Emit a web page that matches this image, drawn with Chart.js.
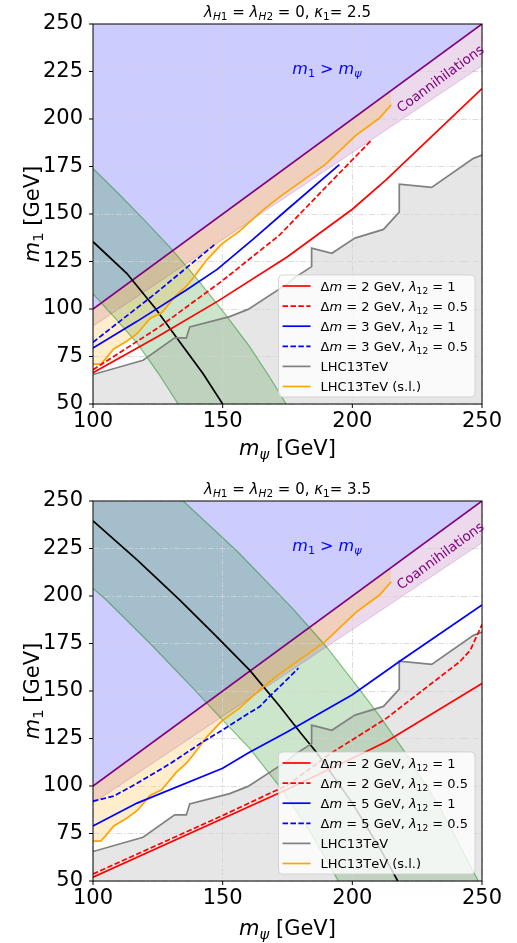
<!DOCTYPE html>
<html>
<head>
<meta charset="utf-8">
<script src="https://cdn.jsdelivr.net/npm/chart.js@4.4.0/dist/chart.umd.min.js"></script>
<style>
html, body { margin: 0; padding: 0; background: #fff; }
#wrap { position: relative; width: 517px; height: 943px; }
canvas { position: absolute; left: 0; }
</style>
</head>
<body>
<div id="wrap">
  <canvas id="topChart" width="517" height="470" style="top:0px"></canvas>
  <canvas id="bottomChart" width="517" height="473" style="top:470px"></canvas>
</div>
<script>
// axis limits (GeV)
const X_MIN = 100, X_MAX = 250, Y_MIN = 50, Y_MAX = 250;

// shared curves, [m_psi, m_1]
const diagonal = [[100, 100], [250, 250]];
const coannLow = [[100, 91], [250, 228]];
const lhc = [[100, 65.5], [119.3, 73], [131.5, 84.8], [136, 84.8], [137.3, 90.6], [152.7, 96], [159.8, 99.8],
  [175.2, 113.5], [177.2, 116], [184.3, 122.3], [184.3, 132], [192.1, 129.3], [201, 137.3], [212, 141.9],
  [218.1, 151], [218.1, 165.7], [230.6, 164], [246.7, 179.3], [250, 181]];
const lhcSL = [[100, 71], [103, 71], [105, 74], [108, 79], [113, 83], [117, 87], [122, 95], [126.5, 98],
  [132, 107], [136, 112], [139, 117], [144, 126], [149.5, 134], [156.5, 141], [165.5, 152], [172, 159],
  [189.5, 176], [201.5, 191.5], [210.5, 200.5], [215, 207.5]];

// kappa1 = 2.5
const greenUpA = [[100, 174], [110, 160.5], [120, 146.5], [130, 132], [140, 116], [150, 99], [160, 81], [168, 64.5], [174.5, 50]];
const greenLowA = [[100, 108], [108, 96], [117, 82], [125.5, 65.5], [132.8, 50]];
const blackA = [[100, 135.4], [113, 118.8], [124, 100.4], [133.4, 82.8], [142.4, 66], [150, 50]];
const redSolidA = [[100, 66.5], [125, 85.5], [148, 104], [175, 127.5], [200, 152.5], [213, 168], [250, 216]];
const redDashA = [[100, 68], [125, 90], [150, 115], [172, 139], [190, 164.5], [207.5, 189]];
const blueSolidA = [[100, 79.5], [117, 93.5], [136, 110], [148, 121], [162, 137], [175, 152.5], [195, 176]];
const blueDashA = [[100, 82.5], [123, 107], [147, 134]];
const labelsA = ['$Δm = 2$ GeV, $λ_{12}$ = 1', '$Δm = 2$ GeV, $λ_{12}$ = 0.5',
  '$Δm = 3$ GeV, $λ_{12}$ = 1', '$Δm = 3$ GeV, $λ_{12}$ = 0.5', 'LHC13TeV', 'LHC13TeV (s.l.)'];

// kappa1 = 3.5
const greenUpB = [[134.8, 250], [156, 223], [172, 200.5], [177.3, 193], [190, 173.3], [203, 150.5], [210.7, 136.5],
  [219.7, 119], [234, 88], [248.6, 50]];
const greenLowB = [[100, 204], [105, 198], [122, 175], [138.6, 151.4], [150, 134.7], [160.4, 119.8], [172, 99.6],
  [183.5, 76.5], [194.6, 50]];
const blackB = [[100, 239.5], [117, 219], [133.4, 198], [147, 179.5], [160.4, 161], [172, 142], [180, 128],
  [186.3, 117.5], [200, 91], [210.7, 67], [217.5, 50]];
const redSolidB = [[100, 52], [175, 98.3], [204, 117.2], [213, 123.3], [250, 154]];
const redDashB = [[100, 53.7], [150, 84.5], [175, 100.5], [191.5, 117], [213, 135.5], [241.5, 165.5], [245.5, 171.5], [250, 185]];
const blueSolidB = [[100, 79], [117, 91], [150, 109.3], [160, 117.5], [175, 128.5], [200, 148], [219, 166.3], [250, 195.3]];
const blueDashB = [[100, 92], [108, 94.7], [117, 101.4], [130, 112], [142.4, 123.3], [150, 129.5], [159, 137.4],
  [164.3, 141.8], [168, 147], [172, 152.3], [179.2, 162]];
const labelsB = ['$Δm = 2$ GeV, $λ_{12}$ = 1', '$Δm = 2$ GeV, $λ_{12}$ = 0.5',
  '$Δm = 5$ GeV, $λ_{12}$ = 1', '$Δm = 5$ GeV, $λ_{12}$ = 0.5', 'LHC13TeV', 'LHC13TeV (s.l.)'];

const titleA = '$λ_{H1} = λ_{H2} = 0, κ_1$= 2.5';
const titleB = '$λ_{H1} = λ_{H2} = 0, κ_1$= 3.5';
const xTitle = '$m_ψ$ [GeV]';
const yTitle = '$m_1$ [GeV]';
const regionText = '$m_1 > m_ψ$';
const coannText = 'Coannihilations';

const FONT = '"DejaVu Sans", sans-serif';
const LW = 1.7;

// tiny mathtext: $...$ toggles math, letters in math are italic, _x / _{xy} are subscripts
function parseRich(str) {
  const parts = [];
  let math = false;
  for (let i = 0; i < str.length; i++) {
    const c = str[i];
    if (c === '$') { math = !math; continue; }
    if (math && c === '_') {
      let s;
      if (str[i + 1] === '{') { const j = str.indexOf('}', i); s = str.slice(i + 2, j); i = j; }
      else { s = str[i + 1]; i++; }
      for (const ch of s) parts.push({ t: ch, it: /[A-Za-zα-ω]/.test(ch), sub: true });
      continue;
    }
    parts.push({ t: c, it: math && /[A-Za-zα-ω]/.test(c), sub: false });
  }
  return parts;
}
function richFont(p, size) {
  return (p.it ? 'italic ' : '') + (p.sub ? size * 0.7 : size) + 'px ' + FONT;
}
function richWidth(ctx, str, size) {
  let w = 0;
  for (const p of parseRich(str)) { ctx.font = richFont(p, size); w += ctx.measureText(p.t).width; }
  return w;
}
function drawRich(ctx, str, x, y, size, color, align) {
  const w = richWidth(ctx, str, size);
  let cx = align === 'center' ? x - w / 2 : (align === 'right' ? x - w : x);
  const base = y + size * 0.36;
  ctx.save();
  ctx.fillStyle = color;
  ctx.textAlign = 'left';
  ctx.textBaseline = 'alphabetic';
  for (const p of parseRich(str)) {
    ctx.font = richFont(p, size);
    ctx.fillText(p.t, cx, p.sub ? base + size * 0.22 : base);
    cx += ctx.measureText(p.t).width;
  }
  ctx.restore();
}

function pts(a) { return a.map(p => ({ x: p[0], y: p[1] })); }

function buildPanel(id, p) {
  const none = 'rgba(0,0,0,0)';
  const gTop = p.greenUp[0][0] > X_MIN ? [[X_MIN, Y_MAX]].concat(p.greenUp) : p.greenUp;
  const gBase = p.greenLow.concat([[p.greenUp[p.greenUp.length - 1][0], Y_MIN]]);

  // index 0 must not be a fill target (filler skips target 0 when drawing beforeDraw)
  // higher order = drawn earlier, so the blue region goes under the green band
  const datasets = [
    { label: p.labels[4], data: pts(lhc), borderColor: 'gray', borderWidth: LW, fill: 'start', backgroundColor: 'rgba(128,128,128,0.2)', order: 2 },
    { data: pts(diagonal), borderColor: 'purple', borderWidth: LW, fill: 'end', backgroundColor: 'rgba(0,0,255,0.2)', order: 6 },
    { data: pts(coannLow), borderColor: 'rgba(128,0,128,0.2)', borderWidth: 1, fill: { target: 1 }, backgroundColor: 'rgba(128,0,128,0.15)', order: 5 },
    { data: pts(gTop), borderColor: none, borderWidth: 0.01, fill: { target: 4 }, backgroundColor: 'rgba(0,128,0,0.2)', order: 5 },
    { data: pts(gBase), borderColor: none, borderWidth: 0.01, fill: false, order: 5 },
    { label: p.labels[5], data: pts(lhcSL), borderColor: 'orange', borderWidth: LW, fill: { target: 1 }, backgroundColor: 'rgba(255,165,0,0.2)', order: 2 },
    { data: pts(p.greenUp), borderColor: 'rgba(0,128,0,0.45)', borderWidth: 1.2, fill: false, order: 4 },
    { data: pts(p.greenLow), borderColor: 'rgba(0,128,0,0.45)', borderWidth: 1.2, fill: false, order: 4 },
    { data: pts(p.black), borderColor: 'black', borderWidth: LW, fill: false, order: 3 },
    { label: p.labels[0], data: pts(p.redSolid), borderColor: 'red', borderWidth: LW, fill: false, order: 0 },
    { label: p.labels[1], data: pts(p.redDash), borderColor: 'red', borderWidth: LW, borderDash: [5.5, 2.4], fill: false, order: 0 },
    { label: p.labels[2], data: pts(p.blueSolid), borderColor: 'blue', borderWidth: LW, fill: false, order: 0 },
    { label: p.labels[3], data: pts(p.blueDash), borderColor: 'blue', borderWidth: LW, borderDash: [5.5, 2.4], fill: false, order: 0 }
  ];
  const legendOrder = [9, 10, 11, 12, 0, 5];

  const decor = {
    id: 'decor',
    afterDatasetsDraw(chart) {
      const { ctx, chartArea: a, scales: { x, y } } = chart;
      ctx.save();
      ctx.strokeStyle = '#000';
      ctx.lineWidth = 1;
      ctx.strokeRect(a.left, a.top, a.right - a.left, a.bottom - a.top);
      ctx.beginPath();
      x.ticks.forEach(t => { const px = x.getPixelForValue(t.value); ctx.moveTo(px, a.bottom); ctx.lineTo(px, a.bottom + 4); });
      y.ticks.forEach(t => { const py = y.getPixelForValue(t.value); ctx.moveTo(a.left, py); ctx.lineTo(a.left - 4, py); });
      ctx.stroke();
      ctx.restore();

      // region labels
      drawRich(ctx, regionText, x.getPixelForValue(190.2), y.getPixelForValue(226.8), 16, 'blue', 'center');
      const x0 = x.getPixelForValue(diagonal[0][0]), y0 = y.getPixelForValue(diagonal[0][1]);
      const x1 = x.getPixelForValue(diagonal[1][0]), y1 = y.getPixelForValue(diagonal[1][1]);
      const ang = Math.atan2(y0 - y1, x1 - x0);
      ctx.save();
      ctx.translate(x.getPixelForValue(233.8), y.getPixelForValue(221.4));
      ctx.rotate(-ang);
      drawRich(ctx, coannText, 0, 0, 13.5, 'purple', 'center');
      ctx.restore();
    },
    afterDraw(chart) {
      const { ctx, chartArea: a } = chart;
      const cx = (a.left + a.right) / 2;
      drawRich(ctx, p.title, cx, a.top - 12.5, 15, '#000', 'center');
      drawRich(ctx, xTitle, cx, a.bottom + p.xTitleOff, 21, '#000', 'center');
      ctx.save();
      ctx.translate(31, (a.top + a.bottom) / 2);
      ctx.rotate(-Math.PI / 2);
      drawRich(ctx, yTitle, 0, 0, 21, '#000', 'center');
      ctx.restore();

      // legend
      const fs = 13;
      let tw = 0;
      legendOrder.forEach(i => { tw = Math.max(tw, richWidth(ctx, datasets[i].label, fs)); });
      const bw = 42 + tw + 7, bh = 122;
      const bx = a.right - 7 - bw, by = a.bottom - 7 - bh;
      ctx.save();
      ctx.beginPath();
      ctx.roundRect(bx, by, bw, bh, 4);
      ctx.fillStyle = 'rgba(255,255,255,0.8)';
      ctx.fill();
      ctx.strokeStyle = 'rgba(204,204,204,0.8)';
      ctx.lineWidth = 1;
      ctx.stroke();
      legendOrder.forEach((i, k) => {
        const ds = datasets[i];
        const ry = by + 11 + k * 20.1;
        ctx.beginPath();
        ctx.setLineDash(ds.borderDash || []);
        ctx.strokeStyle = ds.borderColor;
        ctx.lineWidth = LW;
        ctx.moveTo(bx + 4, ry);
        ctx.lineTo(bx + 32, ry);
        ctx.stroke();
        ctx.setLineDash([]);
        drawRich(ctx, ds.label, bx + 42, ry, fs, '#000', 'left');
      });
      ctx.restore();
    }
  };

  const tickFont = { family: 'DejaVu Sans', size: 21 };
  new Chart(document.getElementById(id), {
    type: 'line',
    data: { datasets },
    options: {
      responsive: false,
      animation: false,
      events: [],
      layout: { padding: { top: p.padTop, right: 35, left: 0, bottom: 0 } },
      plugins: {
        legend: { display: false },
        tooltip: { enabled: false },
        filler: { drawTime: 'beforeDraw' }
      },
      elements: { point: { radius: 0 }, line: { tension: 0 } },
      scales: {
        x: {
          type: 'linear', min: X_MIN, max: X_MAX,
          afterFit(s) { s.height = p.xAxisH; },
          ticks: { stepSize: 50, color: '#000', font: tickFont, padding: 5, maxRotation: 0, autoSkip: false },
          grid: { color: '#d3d3d3', lineWidth: 0.8, drawTicks: false },
          border: { display: false, dash: [6, 2, 1.5, 2] }
        },
        y: {
          type: 'linear', min: Y_MIN, max: Y_MAX,
          afterFit(s) { s.width = 93; },
          ticks: { stepSize: 25, color: '#000', font: tickFont, padding: 10, autoSkip: false },
          grid: { color: '#d3d3d3', lineWidth: 0.8, drawTicks: false },
          border: { display: false, dash: [6, 2, 1.5, 2] }
        }
      }
    },
    plugins: [decor]
  });
}

buildPanel('topChart', {
  title: titleA, labels: labelsA, padTop: 24, xAxisH: 66, xTitleOff: 43,
  greenUp: greenUpA, greenLow: greenLowA, black: blackA,
  redSolid: redSolidA, redDash: redDashA, blueSolid: blueSolidA, blueDash: blueDashA
});
buildPanel('bottomChart', {
  title: titleB, labels: labelsB, padTop: 31, xAxisH: 62, xTitleOff: 46,
  greenUp: greenUpB, greenLow: greenLowB, black: blackB,
  redSolid: redSolidB, redDash: redDashB, blueSolid: blueSolidB, blueDash: blueDashB
});
</script>
</body>
</html>
